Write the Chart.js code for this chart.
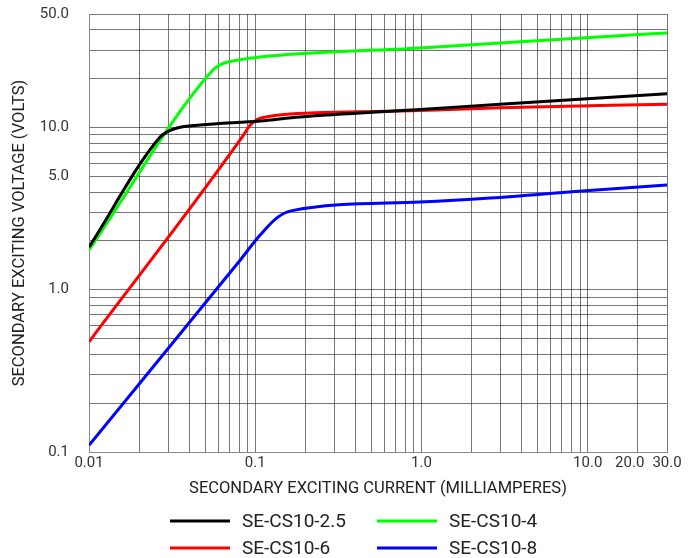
<!DOCTYPE html>
<html>
<head>
<meta charset="utf-8">
<script src="https://cdn.jsdelivr.net/npm/chart.js@4.4.1/dist/chart.umd.min.js"></script>
<style>
  body { margin: 0; background: #fff; }
  #wrap { position: relative; width: 697px; height: 558px; }
</style>
</head>
<body>
<div id="wrap"><canvas id="chart"></canvas></div>
<script>
// secondary exciting current (mA) and voltage (V)
const black_current = [0.01, 0.0267, 0.0294, 0.0338, 0.0466, 0.107, 0.186, 0.98, 2.97, 30]
const black_voltage = [1.83, 8.7, 9.37, 9.93, 10.35, 10.96, 11.6, 12.9, 13.9, 16.1]

const green_current = [0.01, 0.0557, 0.0614, 0.0735, 0.107, 0.98, 9.25, 30]
const green_voltage = [1.76, 22.6, 24.3, 25.7, 27.2, 30.9, 35.6, 38.2]

const red_current = [0.01, 0.0811, 0.0869, 0.0931, 0.1, 0.107, 0.128, 0.162, 0.98, 2.97, 30]
const red_voltage = [0.477, 8.37, 9.3, 10.3, 11.0, 11.4, 11.8, 12.1, 12.7, 13.2, 13.9]

const blue_current = [0.01, 0.0811, 0.107, 0.135, 0.164, 0.98, 2.59, 9.25, 30]
const blue_voltage = [0.11, 1.52, 2.17, 2.77, 3.06, 3.47, 3.67, 4.06, 4.42]

const series_names = ["SE-CS10-2.5", "SE-CS10-4", "SE-CS10-6", "SE-CS10-8"]
const series_colors = ["#000000", "#00ff00", "#ff0000", "#0000ff"]

const x_grid = [0.01, 0.02, 0.03, 0.04, 0.05, 0.06, 0.07, 0.08, 0.09,
  0.1, 0.2, 0.3, 0.4, 0.5, 0.6, 0.7, 0.8, 0.9,
  1, 2, 3, 4, 5, 6, 7, 8, 9, 10, 20, 30]
const x_tick_values = [0.01, 0.1, 1, 10, 30]
const x_tick_labels = ["0.01", "0.1", "1.0", "10.0", "30.0"]
// 20.0 sits a little left of its true log position in the original, so it is placed apart
const x_shifted_value = 20
const x_shifted_label = "20.0"

const y_grid = [0.1, 0.2, 0.3, 0.4, 0.5, 0.6, 0.7, 0.8, 0.9,
  1, 2, 3, 4, 5, 6, 7, 8, 9, 10, 20, 30, 40, 50]
const y_tick_values = [0.1, 1, 5, 10, 50]
const y_tick_labels = ["0.1", "1.0", "5.0", "10.0", "50.0"]

const zip = (xs, ys) => xs.map((x, i) => ({ x, y: ys[i] }))
const curves = [
  zip(black_current, black_voltage),
  zip(green_current, green_voltage),
  zip(red_current, red_voltage),
  zip(blue_current, blue_voltage)
]

const gridColor = "rgba(60, 60, 60, 0.7)"
const fontFamily = "Roboto, 'Liberation Sans', sans-serif"
const tickFont = { family: fontFamily, size: 15 }

// two-column legend under the axis title, plus the nudged 20.0 tick label
const extrasPlugin = {
  id: "extras",
  afterDraw(chart) {
    const ctx = chart.ctx
    const xs = chart.scales.x
    ctx.save()
    ctx.font = "15px " + fontFamily
    ctx.fillStyle = "#333"
    ctx.textAlign = "center"
    ctx.textBaseline = "middle"
    ctx.fillText(x_shifted_label, xs.getPixelForValue(x_shifted_value) - 8, xs.top + 2 + 9)

    const cols = [170, 377]
    const rows = [521, 548]
    ctx.font = "19px " + fontFamily
    ctx.textBaseline = "middle"
    ctx.textAlign = "left"
    chart.data.datasets.forEach((ds, i) => {
      const x = cols[i % 2]
      const y = rows[Math.floor(i / 2)]
      ctx.strokeStyle = ds.borderColor
      ctx.lineWidth = 3
      ctx.beginPath()
      ctx.moveTo(x, y)
      ctx.lineTo(x + 60, y)
      ctx.stroke()
      ctx.fillStyle = "#222"
      ctx.fillText(ds.label, x + 72, y + 1)
    })
    ctx.restore()
  }
}

new Chart(document.getElementById("chart"), {
  type: "line",
  data: {
    datasets: curves.map((pts, i) => ({
      label: series_names[i],
      data: pts,
      borderColor: series_colors[i],
      backgroundColor: series_colors[i],
      borderWidth: 3,
      pointRadius: 0,
      cubicInterpolationMode: "monotone",
      fill: false
    }))
  },
  plugins: [extrasPlugin],
  options: {
    responsive: true,
    maintainAspectRatio: false,
    animation: false,
    layout: { padding: { top: 14, right: 30, left: 0, bottom: 53 } },
    plugins: { legend: { display: false }, tooltip: { enabled: false } },
    scales: {
      x: {
        type: "logarithmic",
        min: 0.01,
        max: 30,
        afterBuildTicks: (s) => { s.ticks = x_grid.map(v => ({ value: v })) },
        afterFit: (s) => { s.height = 53 },
        grid: { color: gridColor, lineWidth: 1, drawTicks: false },
        border: { color: "#888", width: 1 },
        ticks: {
          autoSkip: false, maxRotation: 0, padding: 2, color: "#333", font: tickFont,
          callback: (v) => { const i = x_tick_values.indexOf(v); return i >= 0 ? x_tick_labels[i] : "" }
        },
        title: {
          display: true,
          text: "SECONDARY EXCITING CURRENT (MILLIAMPERES)",
          color: "#222",
          font: { family: fontFamily, size: 16.5, lineHeight: 1.2 },
          padding: { top: 0, bottom: 6 }
        }
      },
      y: {
        type: "logarithmic",
        min: 0.1,
        max: 50,
        afterBuildTicks: (s) => { s.ticks = y_grid.map(v => ({ value: v })) },
        afterFit: (s) => { s.width = 89 },
        grid: { color: gridColor, lineWidth: 1, drawTicks: true, tickLength: 17, tickColor: "rgba(0,0,0,0)" },
        border: { color: "#888", width: 1 },
        ticks: {
          autoSkip: false, padding: 3, color: "#333", font: tickFont,
          callback: (v) => { const i = y_tick_values.indexOf(v); return i >= 0 ? y_tick_labels[i] : "" }
        },
        title: {
          display: true,
          text: "SECONDARY EXCITING VOLTAGE (VOLTS)",
          color: "#222",
          font: { family: fontFamily, size: 16.5, lineHeight: 1.2 },
          padding: { top: 10, bottom: 0 }
        }
      }
    }
  }
})
</script>
</body>
</html>
